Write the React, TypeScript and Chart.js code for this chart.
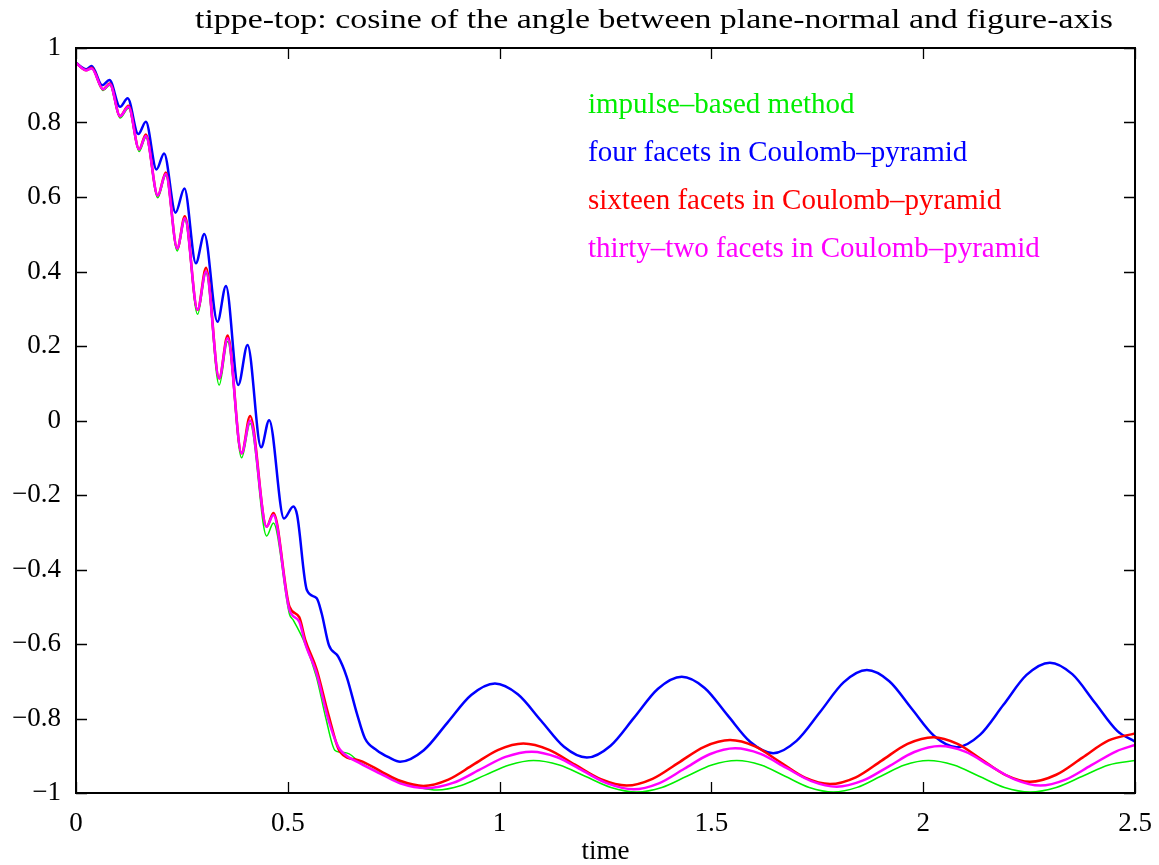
import React, { useEffect, useRef } from "react";
import { Chart, registerables } from "chart.js";

Chart.register(...registerables);

const chartTitle = "tippe-top: cosine of the angle between plane-normal and figure-axis";
const xAxisTitle = "time";
const xTickValues = [0, 0.5, 1, 1.5, 2, 2.5];
const yTickValues = [-1, -0.8, -0.6, -0.4, -0.2, 0, 0.2, 0.4, 0.6, 0.8, 1];

const seriesLabels = [
  "impulse–based method",
  "four facets in Coulomb–pyramid",
  "sixteen facets in Coulomb–pyramid",
  "thirty–two facets in Coulomb–pyramid",
];

// impulse-based method (green)
const greenT = [0, 0.024, 0.037, 0.064, 0.080, 0.104, 0.124, 0.149, 0.165, 0.193, 0.212, 0.239, 0.257, 0.287, 0.307, 0.338, 0.358, 0.391, 0.411, 0.450, 0.466, 0.504, 0.513, 0.541, 0.568, 0.590, 0.611, 0.623, 0.645, 0.670, 0.725, 0.765, 0.810, 0.852, 0.909, 0.966, 1.023, 1.080, 1.141, 1.202, 1.263, 1.324, 1.383, 1.442, 1.501, 1.560, 1.617, 1.674, 1.731, 1.788, 1.844, 1.900, 1.956, 2.012, 2.072, 2.132, 2.192, 2.252, 2.314, 2.376, 2.438, 2.500];
const greenV = [0.96, 0.94, 0.945, 0.886, 0.900, 0.812, 0.838, 0.722, 0.76, 0.598, 0.658, 0.455, 0.538, 0.285, 0.395, 0.095, 0.212, -0.10, -0.008, -0.31, -0.275, -0.52, -0.536, -0.60, -0.69, -0.80, -0.885, -0.89, -0.895, -0.918, -0.95, -0.972, -0.985, -0.992, -0.980, -0.952, -0.925, -0.913, -0.925, -0.955, -0.985, -0.997, -0.985, -0.955, -0.925, -0.913, -0.925, -0.955, -0.985, -0.997, -0.985, -0.955, -0.925, -0.913, -0.925, -0.955, -0.985, -0.997, -0.985, -0.955, -0.925, -0.913];

// four facets (blue)
const blueT = [0, 0.024, 0.037, 0.062, 0.079, 0.104, 0.122, 0.147, 0.165, 0.190, 0.208, 0.235, 0.256, 0.283, 0.303, 0.334, 0.354, 0.383, 0.405, 0.437, 0.456, 0.491, 0.513, 0.522, 0.545, 0.568, 0.580, 0.597, 0.619, 0.639, 0.663, 0.682, 0.710, 0.740, 0.765, 0.821, 0.877, 0.933, 0.989, 1.043, 1.098, 1.152, 1.206, 1.262, 1.318, 1.374, 1.430, 1.484, 1.538, 1.592, 1.646, 1.701, 1.757, 1.812, 1.867, 1.920, 1.973, 2.026, 2.079, 2.134, 2.189, 2.244, 2.299, 2.352, 2.405, 2.458, 2.500];
const blueV = [0.96, 0.943, 0.952, 0.900, 0.914, 0.842, 0.865, 0.769, 0.802, 0.674, 0.717, 0.558, 0.623, 0.422, 0.501, 0.265, 0.361, 0.095, 0.203, -0.072, 0.001, -0.263, -0.231, -0.254, -0.455, -0.477, -0.518, -0.603, -0.634, -0.688, -0.786, -0.853, -0.885, -0.905, -0.916, -0.885, -0.811, -0.737, -0.706, -0.735, -0.806, -0.876, -0.905, -0.873, -0.797, -0.720, -0.688, -0.718, -0.791, -0.863, -0.893, -0.860, -0.782, -0.703, -0.670, -0.700, -0.774, -0.847, -0.877, -0.844, -0.764, -0.683, -0.650, -0.681, -0.757, -0.833, -0.862];

// sixteen facets (red)
const redT = [0, 0.024, 0.037, 0.064, 0.080, 0.104, 0.124, 0.149, 0.165, 0.193, 0.212, 0.239, 0.257, 0.287, 0.307, 0.338, 0.358, 0.391, 0.411, 0.450, 0.466, 0.504, 0.527, 0.541, 0.568, 0.596, 0.623, 0.670, 0.725, 0.765, 0.820, 0.879, 0.938, 0.997, 1.056, 1.117, 1.178, 1.239, 1.300, 1.361, 1.422, 1.483, 1.544, 1.603, 1.662, 1.721, 1.780, 1.841, 1.902, 1.963, 2.024, 2.081, 2.138, 2.195, 2.252, 2.314, 2.376, 2.438, 2.500];
const redV = [0.96, 0.94, 0.947, 0.889, 0.905, 0.817, 0.845, 0.728, 0.768, 0.604, 0.666, 0.462, 0.548, 0.297, 0.41, 0.113, 0.228, -0.088, 0.012, -0.285, -0.248, -0.50, -0.528, -0.588, -0.668, -0.79, -0.889, -0.913, -0.945, -0.967, -0.981, -0.964, -0.924, -0.884, -0.867, -0.884, -0.924, -0.963, -0.980, -0.962, -0.919, -0.876, -0.858, -0.875, -0.917, -0.959, -0.976, -0.958, -0.913, -0.868, -0.850, -0.868, -0.910, -0.952, -0.970, -0.951, -0.905, -0.859, -0.840];

// thirty-two facets (magenta)
const magT = [0, 0.024, 0.037, 0.064, 0.080, 0.104, 0.124, 0.149, 0.165, 0.193, 0.212, 0.239, 0.257, 0.287, 0.307, 0.338, 0.358, 0.391, 0.411, 0.450, 0.466, 0.504, 0.527, 0.541, 0.568, 0.596, 0.619, 0.631, 0.670, 0.725, 0.765, 0.828, 0.890, 0.952, 1.014, 1.076, 1.136, 1.196, 1.256, 1.316, 1.376, 1.436, 1.496, 1.556, 1.616, 1.676, 1.736, 1.796, 1.857, 1.918, 1.979, 2.040, 2.099, 2.158, 2.217, 2.276, 2.336, 2.396, 2.456, 2.500];
const magV = [0.96, 0.94, 0.945, 0.889, 0.903, 0.817, 0.842, 0.728, 0.764, 0.604, 0.662, 0.462, 0.543, 0.297, 0.40, 0.113, 0.221, -0.088, 0.0, -0.285, -0.254, -0.509, -0.540, -0.598, -0.679, -0.804, -0.876, -0.893, -0.920, -0.952, -0.974, -0.987, -0.973, -0.938, -0.903, -0.889, -0.904, -0.940, -0.975, -0.990, -0.974, -0.935, -0.896, -0.880, -0.895, -0.932, -0.968, -0.983, -0.967, -0.929, -0.890, -0.874, -0.889, -0.927, -0.964, -0.980, -0.964, -0.926, -0.888, -0.871];

const seriesColors = ["#00ee00", "#0000ff", "#ff0000", "#ff00ff"];
const seriesWidths = [1.5, 2.5, 2.5, 2.5];

const SERIF = "'Liberation Serif', 'Times New Roman', serif";

const fmt = (v: number) => {
  const r = Math.round(v * 10) / 10;
  const s = String(Math.abs(r));
  return r < 0 ? "\u2212" + s : s;
};

const toPts = (ts: number[], vs: number[]) => ts.map((t, i) => ({ x: t, y: vs[i] }));

const framePlugin = {
  id: "framePlugin",
  afterDatasetsDraw(chart: any) {
    const { ctx, chartArea: a, scales } = chart;
    ctx.save();
    ctx.strokeStyle = "#000";
    ctx.lineWidth = 1.3;
    ctx.beginPath();
    xTickValues.forEach((v) => {
      const px = Math.round(scales.x.getPixelForValue(v)) + 0.5;
      ctx.moveTo(px, a.bottom);
      ctx.lineTo(px, a.bottom - 11);
      ctx.moveTo(px, a.top);
      ctx.lineTo(px, a.top + 11);
    });
    yTickValues.forEach((v) => {
      const py = Math.round(scales.y.getPixelForValue(v)) + 0.5;
      ctx.moveTo(a.left, py);
      ctx.lineTo(a.left + 11, py);
      ctx.moveTo(a.right, py);
      ctx.lineTo(a.right - 11, py);
    });
    ctx.stroke();
    ctx.lineWidth = 2;
    ctx.strokeRect(a.left, a.top, a.right - a.left, a.bottom - a.top);

    // title
    ctx.fillStyle = "#000";
    ctx.font = `28px ${SERIF}`;
    ctx.textAlign = "left";
    ctx.textBaseline = "alphabetic";
    const w = ctx.measureText(chartTitle).width;
    const targetW = 918;
    ctx.save();
    ctx.translate(195, 28);
    ctx.scale(targetW / w, 1);
    ctx.fillText(chartTitle, 0, 0);
    ctx.restore();

    // legend
    ctx.font = `29px ${SERIF}`;
    const baselines = [113, 161, 209, 257];
    seriesLabels.forEach((lab, i) => {
      ctx.fillStyle = seriesColors[i];
      ctx.fillText(lab, 588, baselines[i]);
    });
    ctx.restore();
  },
};

export default function App() {
  const ref = useRef<HTMLCanvasElement | null>(null);
  useEffect(() => {
    document.body.style.margin = "0";
    const canvas = ref.current!;
    const series = [
      { t: greenT, v: greenV },
      { t: blueT, v: blueV },
      { t: redT, v: redV },
      { t: magT, v: magV },
    ];
    const chart = new Chart(canvas, {
      type: "line",
      data: {
        datasets: series.map((s, i) => ({
          label: seriesLabels[i],
          data: toPts(s.t, s.v),
          borderColor: seriesColors[i],
          backgroundColor: seriesColors[i],
          borderWidth: seriesWidths[i],
          pointRadius: 0,
          fill: false,
          cubicInterpolationMode: "monotone" as const,
          order: 4 - i,
        })),
      },
      options: {
        animation: false,
        responsive: false,
        maintainAspectRatio: false,
        layout: { padding: { top: 48, right: 24, left: 0, bottom: 0 } },
        plugins: {
          legend: { display: false },
          tooltip: { enabled: false },
          title: { display: false },
        },
        scales: {
          x: {
            type: "linear",
            min: 0,
            max: 2.5,
            afterFit: (s: any) => {
              s.height = 72;
              s.paddingLeft = 0;
              s.paddingRight = 0;
            },
            afterBuildTicks: (s: any) => {
              s.ticks = xTickValues.map((v) => ({ value: v }));
            },
            grid: { display: false, drawTicks: false },
            border: { display: false },
            ticks: {
              padding: 15,
              color: "#000",
              font: { family: SERIF, size: 27 },
              maxRotation: 0,
              callback: (v: any) => fmt(Number(v)),
            },
            title: {
              display: true,
              text: xAxisTitle,
              color: "#000",
              font: { family: SERIF, size: 27, lineHeight: 1 },
              padding: 0,
            },
          },
          y: {
            type: "linear",
            min: -1,
            max: 1,
            afterFit: (s: any) => {
              s.width = 76;
              s.paddingTop = 0;
              s.paddingBottom = 0;
            },
            afterBuildTicks: (s: any) => {
              s.ticks = yTickValues.map((v) => ({ value: v }));
            },
            grid: { display: false, drawTicks: false },
            border: { display: false },
            ticks: {
              padding: 15,
              color: "#000",
              font: { family: SERIF, size: 27 },
              callback: (v: any) => fmt(Number(v)),
            },
          },
        },
      },
      plugins: [framePlugin],
    });
    return () => chart.destroy();
  }, []);
  return (
    <div style={{ width: 1159, height: 865 }}>
      <canvas ref={ref} width={1159} height={865} style={{ display: "block" }} />
    </div>
  );
}
